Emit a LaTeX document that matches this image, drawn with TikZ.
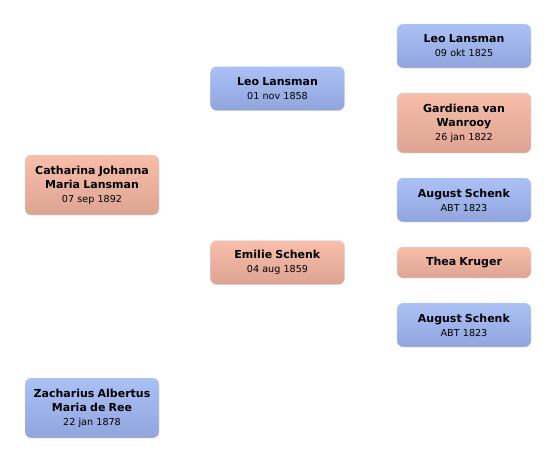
\documentclass[tikz,border=0pt]{standalone}
\usepackage{fontspec}
\setmainfont{DejaVu Sans}
\usetikzlibrary{positioning}
\definecolor{maleTop}{HTML}{ABC1F6}
\definecolor{maleBottom}{HTML}{91A5DC}
\definecolor{femaleTop}{HTML}{F8BEA9}
\definecolor{femaleBottom}{HTML}{DDA493}
\definecolor{edgeGrey}{HTML}{D8DCE6}
\newcommand{\pname}[1]{\textbf{\fontsize{11}{15.5}\selectfont #1}}

\begin{document}
\begin{tikzpicture}[x=1pt, y=-1pt,
    personBox/.style={rectangle, rounded corners=6pt, draw=edgeGrey, line width=0.3pt, align=center, text width=130pt, minimum width=134pt, inner sep=2pt, font=\fontsize{9.6}{14}\selectfont},
    personMale/.style={personBox, top color=maleTop, bottom color=maleBottom},
    personFemale/.style={personBox, top color=femaleTop, bottom color=femaleBottom},
]
\useasboundingbox (0,0) rectangle (556,463);
% generation 1
\node[personFemale, minimum height=60pt] (catharina) at (92, 185) {\pname{Catharina Johanna}\\\pname{Maria Lansman}\\07 sep 1892};
\node[personMale, minimum height=60pt] (zacharius) at (92, 408) {\pname{Zacharius Albertus}\\\pname{Maria de Ree}\\22 jan 1878};
% generation 2
\node[personMale, minimum height=44pt] (leoA) at (277.5, 88.5) {\pname{Leo Lansman}\\01 nov 1858};
\node[personFemale, minimum height=44pt] (emilie) at (277.5, 262.5) {\pname{Emilie Schenk}\\04 aug 1859};
% generation 3
\node[personMale, minimum height=44pt] (leoB) at (464, 46) {\pname{Leo Lansman}\\09 okt 1825};
\node[personFemale, minimum height=60pt] (gardiena) at (464, 123) {\pname{Gardiena van}\\\pname{Wanrooy}\\26 jan 1822};
\node[personMale, minimum height=44pt] (augustA) at (464, 200) {\pname{August Schenk}\\ABT 1823};
\node[personFemale, minimum height=31pt] (thea) at (464, 262.5) {\pname{Thea Kruger}};
\node[personMale, minimum height=44pt] (augustB) at (464, 325) {\pname{August Schenk}\\ABT 1823};
\end{tikzpicture}
\end{document}
